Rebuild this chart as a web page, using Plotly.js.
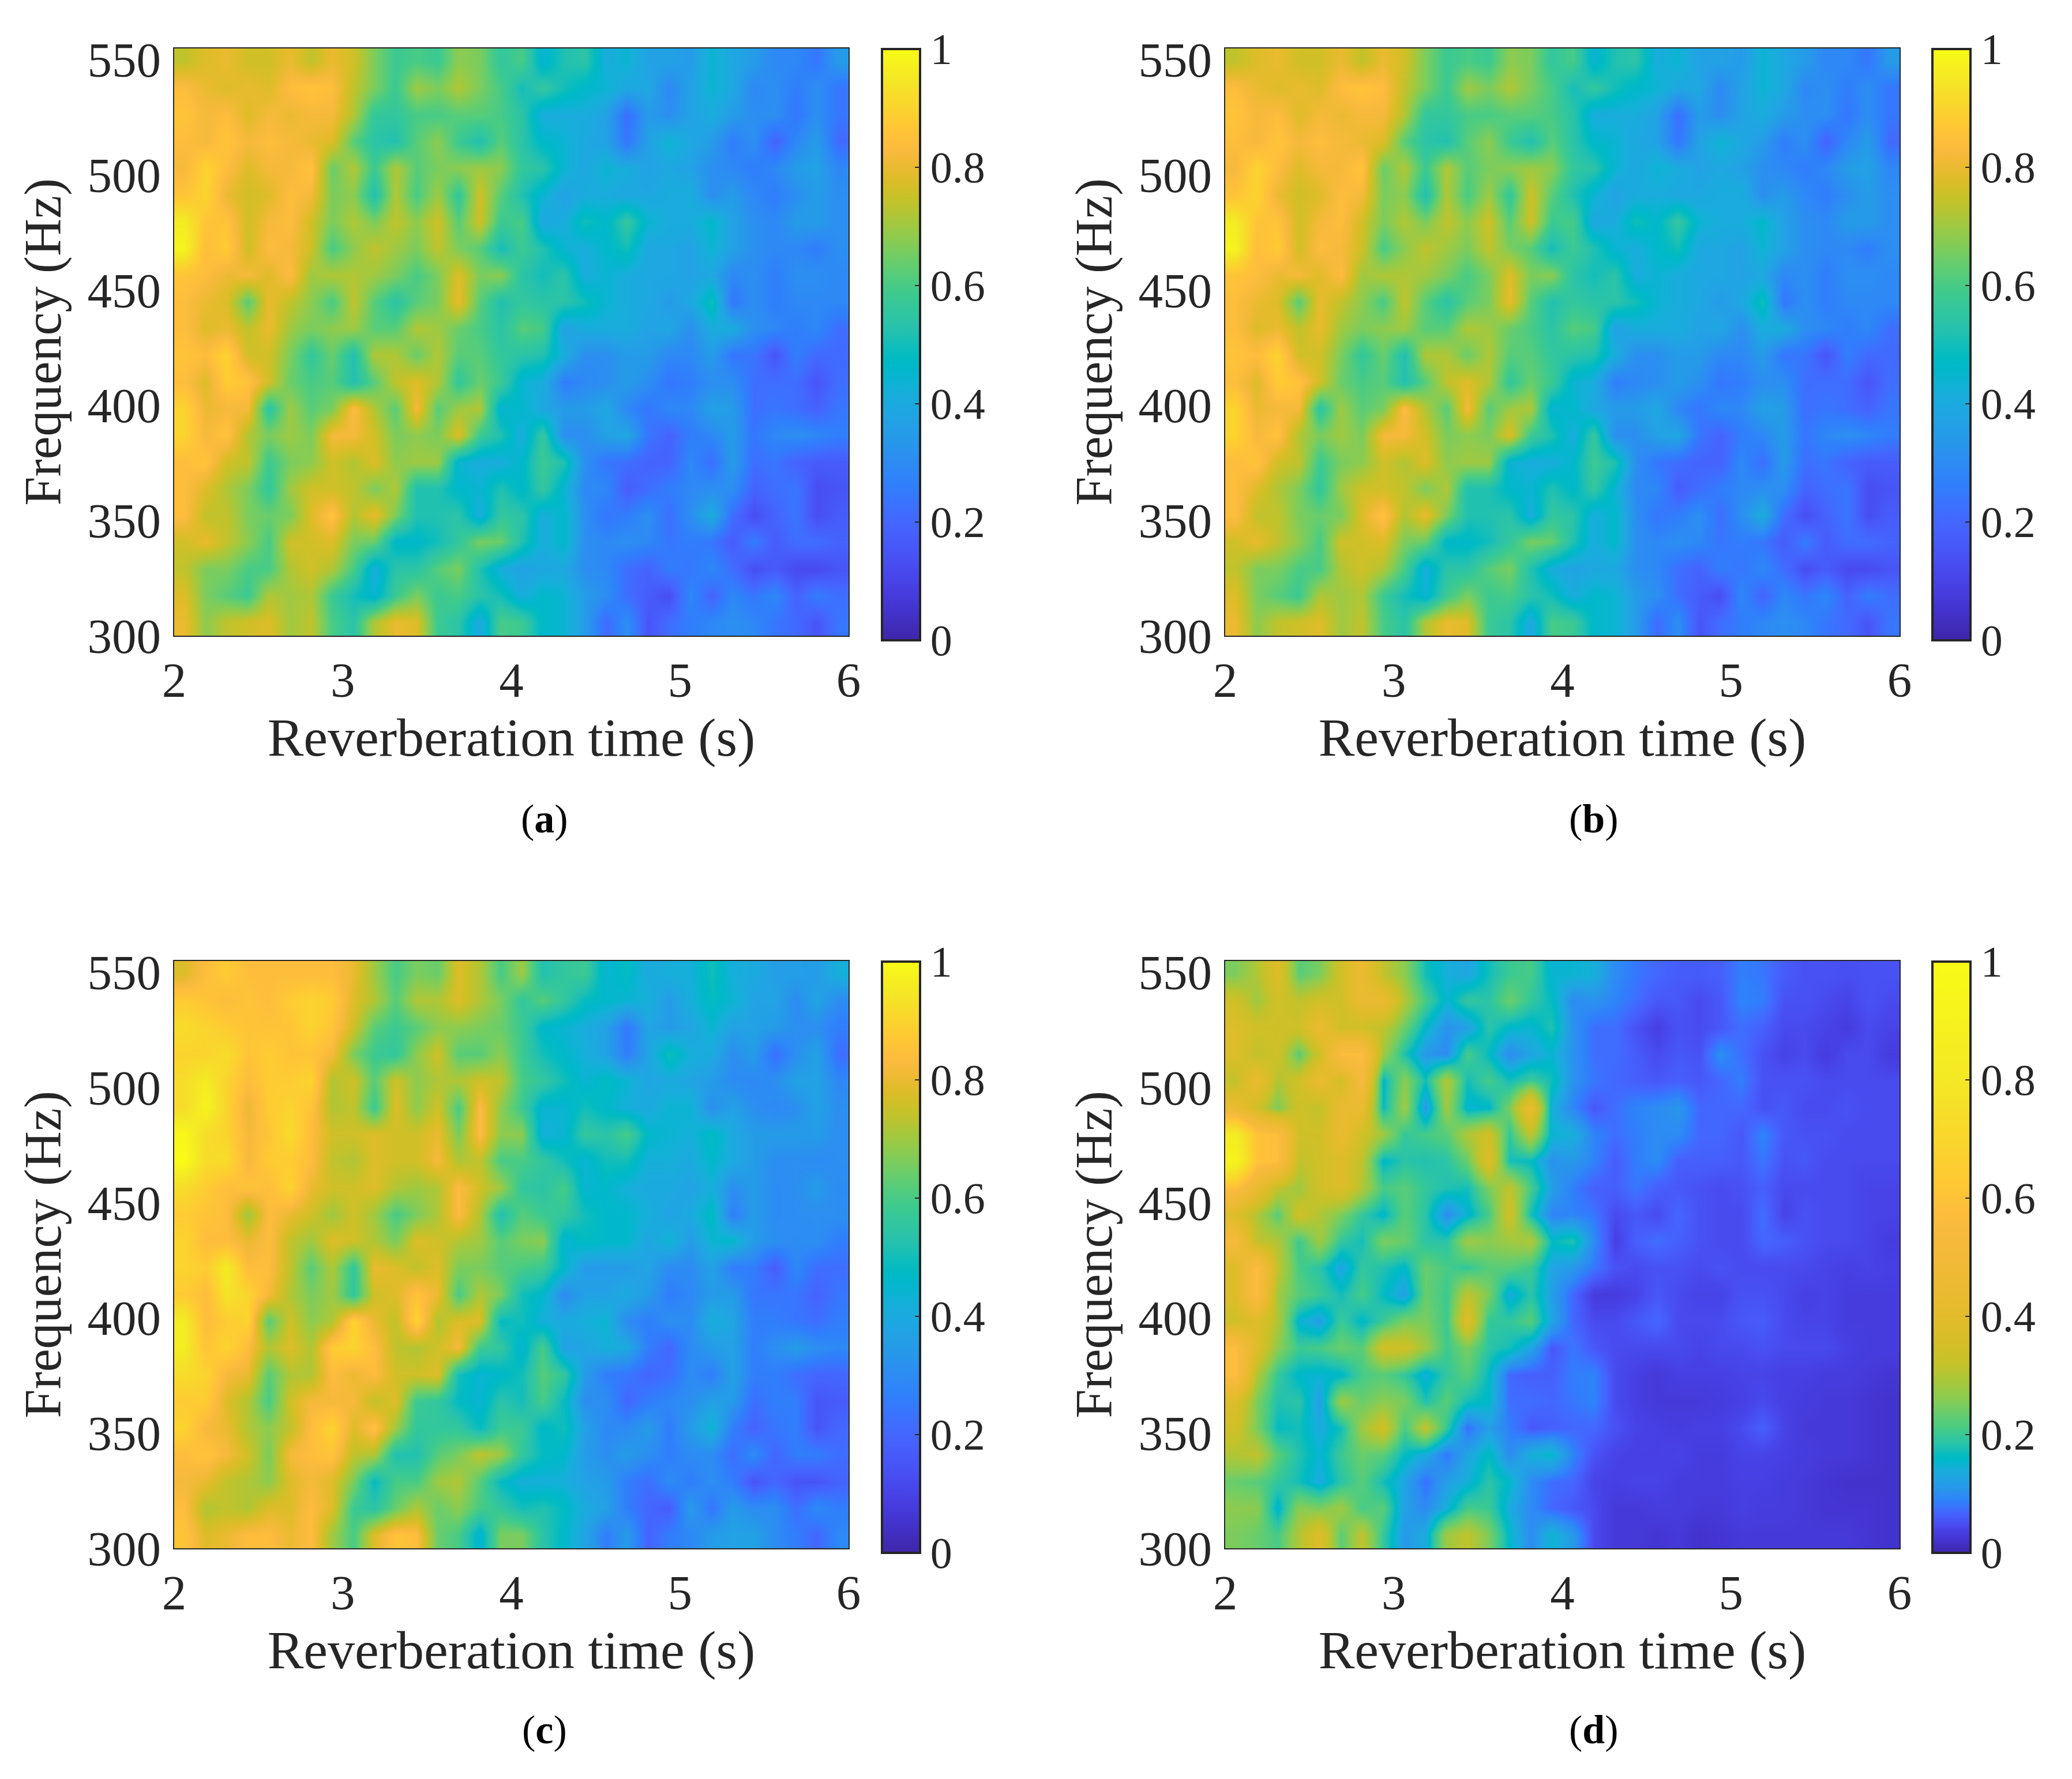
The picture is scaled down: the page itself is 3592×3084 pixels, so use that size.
<!DOCTYPE html>
<html>
<head>
<meta charset="utf-8">
<script src="https://cdn.plot.ly/plotly-3.0.1.min.js"></script>
<style>html,body{margin:0;padding:0;background:#fff}</style>
</head>
<body>
<div id="myPlot" style="width:3592px;height:3084px"></div>
<script>
var xTicks = [2, 3, 4, 5, 6];
var yTicks = [300, 350, 400, 450, 500, 550];
var cbTicks = [0, 0.2, 0.4, 0.6, 0.8, 1];
var cbLabels = ['0', '0.2', '0.4', '0.6', '0.8', '1'];
var captions = ['a', 'b', 'c', 'd'];

// values in hundredths, rows top (555 Hz) to bottom (300 Hz), columns 2 s to 6 s
var zA = [
[74,78,80,76,76,80,74,80,76,66,58,60,58,68,66,56,60,44,52,54,41,44,37,37,35,44,39,35,29,29,24,35],
[84,80,78,80,78,84,86,84,74,66,58,70,66,72,66,60,50,56,50,46,44,39,39,29,37,44,39,29,31,26,31,24],
[86,82,84,78,82,80,82,82,72,56,56,60,60,62,62,60,54,41,41,41,37,22,35,31,37,41,35,31,31,24,31,24],
[84,82,86,82,84,82,80,78,62,54,52,62,68,58,52,62,54,46,44,39,37,24,37,44,39,35,26,31,19,29,35,21],
[82,90,84,78,82,82,86,64,72,58,72,62,66,68,70,68,56,54,44,39,44,41,37,39,37,31,29,26,29,35,37,29],
[86,90,80,76,78,84,82,66,68,52,72,60,70,56,76,62,52,44,37,41,41,39,39,41,41,31,35,29,26,31,35,31],
[96,86,86,76,82,84,76,66,72,66,74,68,76,62,76,58,60,39,41,50,46,56,44,41,41,46,37,31,29,35,35,31],
[98,84,88,76,84,82,76,60,68,74,70,66,74,66,62,50,58,52,44,41,46,50,39,39,37,44,37,31,29,29,26,31],
[86,84,80,82,78,84,70,72,72,70,66,60,66,78,66,68,54,50,54,41,44,41,39,39,37,39,29,31,26,31,31,29],
[84,80,78,62,80,74,68,60,74,62,54,62,66,80,62,52,56,54,54,50,44,41,39,35,39,50,24,31,26,29,29,29],
[84,78,80,74,80,70,66,68,70,62,62,72,70,64,60,54,62,60,37,41,41,41,37,39,31,41,41,31,29,26,29,22],
[86,84,90,76,76,66,56,64,52,72,72,64,72,62,62,56,54,52,41,31,31,35,35,29,29,35,24,24,15,26,21,21],
[84,78,88,86,76,64,60,62,52,62,74,78,72,56,64,58,44,41,26,29,31,35,31,24,26,31,31,22,22,22,15,22],
[90,80,82,82,54,70,62,66,84,72,62,82,62,70,72,44,46,39,35,35,39,29,24,29,29,37,35,22,24,22,19,24],
[90,82,86,72,66,70,66,82,82,76,66,68,66,78,58,52,41,56,31,31,37,39,24,19,26,29,35,24,29,31,29,26],
[84,86,76,74,58,66,68,76,72,78,68,70,70,44,41,41,46,58,52,31,24,22,19,19,29,22,35,22,24,19,17,17],
[84,78,72,66,56,70,76,76,74,66,72,52,52,46,44,52,46,56,44,29,29,17,22,26,29,31,31,19,22,24,13,15],
[84,74,74,66,64,66,78,86,72,80,66,52,52,54,41,56,54,41,46,31,24,26,31,22,31,41,22,13,19,24,13,17],
[76,80,74,68,60,76,76,78,66,64,46,46,50,56,66,64,52,41,46,31,29,31,29,24,26,24,17,26,17,22,22,19],
[74,66,66,60,60,72,76,72,60,41,54,54,62,66,52,41,37,39,39,31,29,22,19,26,24,29,22,13,17,12,12,15],
[78,66,62,58,72,70,72,58,50,44,58,66,58,60,54,50,41,46,44,35,31,22,17,13,29,19,29,24,29,19,26,22],
[80,68,74,76,78,70,74,60,54,72,80,78,58,54,39,60,58,46,44,35,21,31,15,22,26,29,31,29,24,21,15,24]
];

// (b) reads the same as (a) at this grid size
var zB = zA;

var zC = [
[78,84,88,84,84,84,84,84,80,70,60,66,64,78,72,60,70,52,56,58,44,48,40,42,42,50,42,40,36,36,35,42],
[88,86,84,86,84,88,90,88,78,72,62,72,72,78,72,66,56,62,56,48,46,44,42,35,42,48,44,37,38,30,38,30],
[92,90,88,86,86,86,90,86,76,62,58,62,68,68,66,64,58,46,44,41,37,24,38,35,38,44,37,37,35,31,31,26],
[90,90,92,86,88,86,86,82,66,58,56,68,76,62,62,68,58,50,46,42,37,26,38,50,42,40,31,35,22,31,37,22],
[92,96,90,84,88,88,90,72,76,62,76,68,72,72,76,74,60,56,50,44,48,44,38,40,38,35,30,29,31,37,37,29],
[92,98,90,80,88,90,86,72,74,58,78,68,76,60,84,68,58,44,44,50,46,42,40,44,44,31,37,31,29,31,37,31],
[99,92,90,82,86,92,84,76,76,78,76,76,80,66,84,68,68,42,44,56,54,60,46,44,42,48,40,35,35,35,35,31],
[100,92,92,82,88,88,84,74,72,78,76,76,82,72,74,60,60,56,50,44,50,50,42,42,40,46,40,35,31,31,30,31],
[92,88,84,86,84,90,80,76,76,78,72,70,72,84,76,70,56,54,60,44,46,42,40,40,37,42,31,35,30,31,35,30],
[88,86,84,70,84,80,76,70,76,70,60,66,72,84,72,52,62,58,56,50,46,46,42,37,40,48,26,35,30,31,31,31],
[90,84,84,80,84,74,70,78,76,72,66,78,76,72,70,62,66,68,44,48,46,46,38,44,35,44,46,35,31,30,31,26],
[90,88,96,84,84,74,62,72,56,80,78,74,78,66,66,62,60,58,46,35,35,35,38,30,30,37,26,26,17,29,22,22],
[88,84,94,90,82,72,66,70,56,76,78,86,80,60,72,66,50,46,30,37,37,40,35,26,29,35,35,24,24,24,19,24],
[96,84,88,90,62,76,68,72,90,80,74,90,72,78,78,48,50,42,40,42,44,30,26,31,30,42,38,26,26,24,22,26],
[96,86,90,84,72,78,72,88,90,84,74,72,76,82,58,56,44,60,37,38,42,40,26,20,30,35,37,26,31,35,31,29],
[92,90,82,80,62,72,72,84,80,84,76,76,78,50,44,46,50,62,56,35,26,24,20,22,30,26,37,26,26,22,20,20],
[88,88,78,72,60,76,82,82,82,74,78,58,56,48,44,54,50,60,48,31,31,20,26,29,31,37,35,22,26,26,15,17],
[90,82,80,72,68,74,84,90,78,86,70,56,56,56,48,58,58,46,50,37,29,30,35,26,35,44,26,19,24,26,15,20],
[84,86,82,76,66,82,84,86,74,72,52,52,62,66,74,70,56,48,46,35,31,35,31,26,30,30,22,30,20,26,26,22],
[82,80,74,72,68,78,82,78,66,48,60,60,70,72,62,48,42,42,42,37,35,26,22,30,26,31,26,15,20,15,15,19],
[84,72,74,72,78,78,84,78,58,54,64,72,64,68,60,56,50,52,48,40,37,26,20,17,35,24,35,30,31,22,30,26],
[86,78,80,84,84,80,84,70,60,78,86,84,64,60,44,66,66,54,46,38,26,35,19,26,29,35,37,37,30,26,20,29]
];

// (d) in thousandths, it has its own colorbar spacing
var zD = [
[250,298,380,223,250,343,440,315,263,172,142,127,172,202,210,150,150,142,97,80,69,60,60,63,85,80,60,52,52,49,52,52],
[343,280,343,315,343,343,440,440,298,210,150,195,187,236,195,164,97,104,90,74,57,57,46,57,90,85,52,52,46,40,52,46],
[380,343,343,343,440,343,343,315,236,157,104,120,187,157,150,180,104,74,74,52,36,52,46,57,74,63,46,46,40,32,46,40],
[380,315,343,223,343,580,580,280,180,112,97,210,164,97,127,150,104,74,74,60,46,57,52,100,74,52,40,46,32,46,46,32],
[315,440,298,343,440,343,525,157,263,172,298,172,210,172,202,172,104,80,69,63,57,63,57,69,85,52,52,52,46,46,46,46],
[440,343,250,343,315,440,440,164,280,112,280,150,157,250,440,142,90,57,74,90,97,110,69,69,69,52,57,46,46,52,46,46],
[840,600,580,343,343,440,343,280,195,210,223,298,343,195,315,150,142,90,74,85,97,97,69,69,57,90,57,52,52,46,46,46],
[920,600,580,315,343,380,315,157,187,180,187,236,380,172,164,104,112,90,60,85,97,63,63,63,57,80,52,57,46,46,46,46],
[580,440,315,280,343,380,298,210,223,195,180,172,250,315,210,120,85,63,63,80,63,57,52,46,52,63,46,46,46,46,40,40],
[380,298,223,343,298,250,195,157,223,187,97,150,210,343,172,90,90,80,46,57,46,69,52,46,46,74,40,52,46,46,40,40],
[525,315,298,202,280,195,172,250,236,187,187,280,263,280,298,164,180,97,36,63,74,63,52,46,46,69,63,52,46,46,40,32],
[380,580,315,210,187,127,195,180,157,236,210,195,223,223,202,127,112,80,52,46,52,52,46,52,46,46,46,46,40,36,40,36],
[380,580,280,223,202,172,210,164,120,236,202,315,250,135,187,120,69,32,32,40,57,46,40,40,52,52,46,36,40,32,32,32],
[343,380,298,150,120,202,157,202,250,250,202,380,195,195,223,127,69,46,46,57,69,46,46,46,57,60,46,40,40,32,32,32],
[580,380,263,202,210,236,223,343,343,280,202,250,187,172,127,57,80,57,46,46,46,46,40,46,46,52,46,46,46,36,32,32],
[580,298,195,157,150,157,210,223,195,142,195,223,164,69,63,63,85,90,46,36,28,36,36,36,40,40,36,36,32,32,28,24],
[380,250,180,187,120,280,236,263,250,180,223,172,157,74,74,69,80,90,46,36,28,28,28,32,36,46,36,32,28,28,24,20],
[343,250,164,172,135,172,280,343,210,315,195,74,120,85,57,63,69,69,52,40,36,32,36,36,46,63,40,28,28,28,24,20],
[298,315,223,180,150,202,236,223,164,135,80,127,164,97,142,157,90,52,40,36,36,40,32,32,40,40,36,32,28,28,24,20],
[236,223,195,172,135,187,223,172,127,74,120,142,187,157,97,74,69,40,36,40,40,32,32,32,36,36,32,28,24,20,20,20],
[263,263,150,263,250,280,210,223,120,97,142,210,202,135,97,69,57,46,28,28,32,32,28,28,36,32,32,28,24,24,24,20],
[250,236,210,298,380,223,315,195,112,135,280,315,250,157,97,150,112,46,28,28,24,28,20,24,28,28,28,28,28,28,24,20]
];

// colormap
var parula = [
[.2422,.1504,.6603],[.2504,.1650,.7076],[.2578,.1818,.7511],[.2647,.1978,.7952],[.2706,.2147,.8364],[.2751,.2342,.8710],
[.2783,.2559,.8991],[.2803,.2782,.9221],[.2813,.3006,.9414],[.2810,.3228,.9579],[.2795,.3447,.9717],[.2760,.3667,.9829],
[.2699,.3892,.9906],[.2602,.4123,.9952],[.2440,.4358,.9988],[.2206,.4603,.9973],[.1963,.4847,.9892],[.1834,.5074,.9798],
[.1786,.5289,.9682],[.1764,.5499,.9520],[.1687,.5703,.9359],[.1540,.5902,.9218],[.1460,.6091,.9079],[.1380,.6276,.8973],
[.1248,.6459,.8883],[.1113,.6635,.8763],[.0952,.6798,.8598],[.0689,.6948,.8394],[.0297,.7082,.8163],[.0036,.7203,.7917],
[.0067,.7312,.7660],[.0433,.7411,.7394],[.0964,.7500,.7120],[.1408,.7584,.6842],[.1717,.7670,.6554],[.1938,.7758,.6251],
[.2161,.7843,.5923],[.2470,.7918,.5567],[.2906,.7973,.5188],[.3406,.8008,.4789],[.3909,.8029,.4354],[.4456,.8024,.3909],
[.5044,.7993,.3480],[.5616,.7942,.3045],[.6174,.7876,.2612],[.6720,.7793,.2227],[.7242,.7698,.1910],[.7738,.7598,.1646],
[.8203,.7498,.1535],[.8634,.7406,.1596],[.9035,.7330,.1774],[.9393,.7288,.2100],[.9728,.7298,.2394],[.9956,.7434,.2371],
[.9970,.7659,.2199],[.9952,.7893,.2028],[.9892,.8136,.1885],[.9786,.8386,.1766],[.9676,.8639,.1643],[.9610,.8890,.1537],
[.9597,.9135,.1423],[.9628,.9373,.1265],[.9691,.9606,.1064],[.9769,.9839,.0805]
];

// where colormap positions sit on the colorbar of (d)
var dBarValue = [0, .04, .066, .093, .157, .21, .263, .324, .4, .567, .6, .8, 1];
var dBarPos = [0, .10, .19, .29, .46, .60, .68, .75, .79, .83, .86, .95, 1];

function rgb(c){
	return 'rgb(' + Math.round(c[0]*255) + ',' + Math.round(c[1]*255) + ',' + Math.round(c[2]*255) + ')';
}

function posToValue(p){
	for(var i = 1; i < dBarPos.length; i++){
		if(p <= dBarPos[i]){
			var t = (p - dBarPos[i-1]) / (dBarPos[i] - dBarPos[i-1]);
			return dBarValue[i-1] + t * (dBarValue[i] - dBarValue[i-1]);
		}
	}
	return 1;
}

var scaleLinear = parula.map(function(c, i){ return [i/63, rgb(c)]; });
var scaleD = parula.map(function(c, i){ return [posToValue(i/63), rgb(c)]; });

var W = 3592, H = 3084;
var textColor = '#262626';
var serif = '"Liberation Serif", serif';

// pixel boxes of the four plots
var plotLeft = [302, 2124, 302, 2124];
var plotRight = [1471, 3293, 1471, 3293];
var plotTop = [83.5, 83.5, 1665.5, 1665.5];
var plotBottom = [1102, 1102, 2684, 2684];
var barLeft = [1529, 3350, 1529, 3350];

var nCols = zA[0].length, nRows = zA.length;
var xCells = [], yCells = [];
for(var i = 0; i < nCols; i++){ xCells.push(2 + (i + 0.5) * 4 / nCols); }
for(var j = 0; j < nRows; j++){ yCells.push(555 - (j + 0.5) * 255 / nRows); }

function scaled(z, k){
	return z.map(function(r){ return r.map(function(v){ return v / k; }); });
}

var panels = [scaled(zA, 100), scaled(zB, 100), scaled(zC, 100), scaled(zD, 1000)];

var data = [];
var layout = {
	width: W,
	height: H,
	margin: {l: 0, r: 0, t: 0, b: 0},
	paper_bgcolor: '#fff',
	plot_bgcolor: '#fff',
	showlegend: false,
	annotations: []
};

panels.forEach(function(z, k){
	var sfx = k === 0 ? '' : String(k + 1);
	data.push({
		type: 'heatmap',
		x: xCells,
		y: yCells,
		z: z,
		xaxis: 'x' + sfx,
		yaxis: 'y' + sfx,
		zmin: 0,
		zmax: 1,
		zsmooth: 'best',
		colorscale: k === 3 ? scaleD : scaleLinear,
		colorbar: {
			x: barLeft[k] / W,
			xanchor: 'left',
			xpad: 0,
			y: 1 - (plotTop[k] + 1) / H,
			yanchor: 'top',
			ypad: 0,
			lenmode: 'pixels',
			len: 1025,
			thicknessmode: 'pixels',
			thickness: 66,
			outlinewidth: 4,
			outlinecolor: textColor,
			tickmode: 'array',
			tickvals: cbTicks,
			ticktext: cbLabels,
			ticks: 'inside',
			ticklen: 11,
			tickwidth: 2,
			tickcolor: textColor,
			tickfont: {family: serif, size: 76, color: textColor}
		}
	});

	layout['xaxis' + sfx] = {
		domain: [plotLeft[k] / W, plotRight[k] / W],
		range: [2, 6],
		anchor: 'y' + sfx,
		tickmode: 'array',
		tickvals: xTicks,
		ticks: '',
		showgrid: false,
		zeroline: false,
		showline: true,
		mirror: true,
		linecolor: textColor,
		linewidth: 2,
		ticklabelstandoff: 2,
		tickfont: {family: serif, size: 85, color: textColor},
		title: {text: 'Reverberation time (s)', standoff: 14, font: {family: serif, size: 94, color: textColor}}
	};
	layout['yaxis' + sfx] = {
		domain: [1 - plotBottom[k] / H, 1 - plotTop[k] / H],
		range: [300, 555],
		anchor: 'x' + sfx,
		tickmode: 'array',
		tickvals: yTicks,
		ticks: '',
		showgrid: false,
		zeroline: false,
		showline: true,
		mirror: true,
		linecolor: textColor,
		linewidth: 2,
		ticklabelstandoff: 4,
		tickfont: {family: serif, size: 85, color: textColor},
		title: {text: 'Frequency (Hz)', standoff: 16, font: {family: serif, size: 90, color: textColor}}
	};

	layout.annotations.push({
		text: '(<b>' + captions[k] + '</b>)',
		xref: 'paper',
		yref: 'paper',
		x: (k % 2 === 0 ? 944 : 2763) / W,
		y: 1 - (k < 2 ? 1420 : 2998) / H,
		xanchor: 'center',
		yanchor: 'middle',
		showarrow: false,
		font: {family: serif, size: 70, color: '#000'}
	});
});

Plotly.newPlot('myPlot', data, layout, {displayModeBar: false});
</script>
</body>
</html>
